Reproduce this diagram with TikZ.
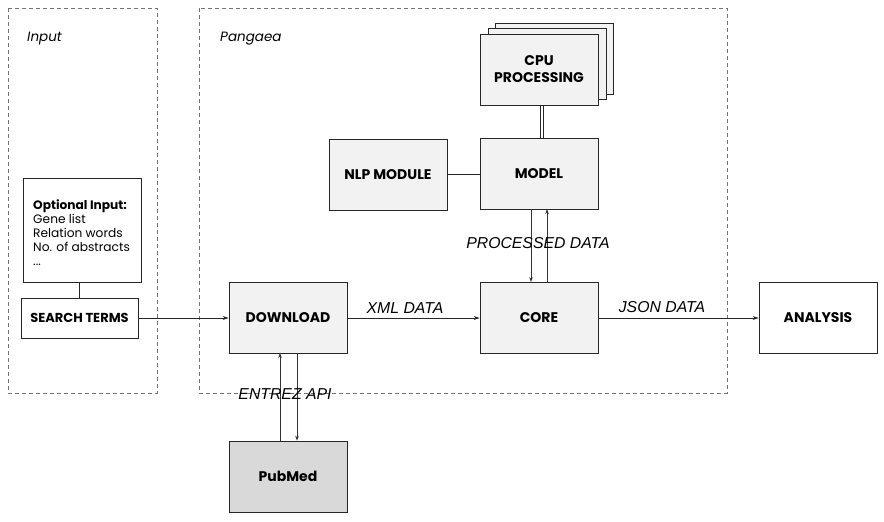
\documentclass[tikz,border=0pt]{standalone}
\usepackage{fontspec}
\setmainfont{Poppins}
\newfontfamily\arialf{Liberation Sans}
\usetikzlibrary{arrows.meta}
\begin{document}
\begin{tikzpicture}[x=1pt,y=-1pt,
  box/.style={draw=black!85,line width=0.8pt,fill=black!5,minimum width=118pt,minimum height=71pt,inner sep=0pt,align=center,font=\fontsize{14}{17}\selectfont\bfseries},
  wbox/.style={box,fill=white},
  group/.style={draw=black!55,dashed,dash pattern=on 4pt off 3pt,line width=0.6pt},
  lab/.style={font=\arialf\itshape\fontsize{15.8}{18}\selectfont,inner sep=0pt},
  ttl/.style={font=\itshape\fontsize{13.5}{15}\selectfont,inner sep=0pt,anchor=west},
  conn/.style={draw=black!85,line width=0.8pt},
  arr/.style={conn,-{Stealth[length=6pt,width=4pt]}},
  sarr/.style={draw=black!80,line width=0.6pt,-{Stealth[length=5pt,width=3.5pt]}}
]
\useasboundingbox (0,0) rectangle (884,522);
% groups
\draw[group] (8,8) rectangle (157,393);
\draw[group] (199,8) rectangle (727,393);
\node[ttl] (tin) at (27,39) {Input};
\node[ttl] (tpa) at (220,39) {Pangaea};
% input side
\node[wbox,minimum width=118pt,minimum height=104pt,anchor=north west] (opt) at (23,178) {};
\node[anchor=north west,align=left,inner sep=0pt,font=\fontsize{12.2}{14}\selectfont] (optt) at (33,200)
  {\textbf{Optional Input:}\\Gene list\\Relation words\\No. of abstracts\\...};
\node[wbox,minimum width=117pt,minimum height=40pt,font=\fontsize{13}{15}\selectfont\bfseries] (search) at (79.5,318) {SEARCH TERMS};
% main boxes
\node[box] (down) at (288,318) {DOWNLOAD};
\node[box] (core) at (539,318) {CORE};
\node[wbox] (ana) at (818,318) {ANALYSIS};
\node[box] (model) at (539,174) {MODEL};
\node[box] (nlp) at (388,174.5) {NLP MODULE};
\node[box] (pub) at (288,476.5) [fill=black!15] {PubMed};
% cpu stack
\node[box] (cpu3) at (554,58.5) {};
\node[box] (cpu2) at (547,64) {};
\node[box] (cpu) at (539,69.5) {CPU\\PROCESSING};
% connectors
\draw[conn] (opt.south -| search.north) -- (search.north);
\draw[arr] (search.east) -- (down.west);
\draw[arr] (down.east) -- (core.west);
\draw[arr] (core.east) -- (ana.west);
\draw[conn] (nlp.east |- model.west) -- (model.west);
\coordinate (c1) at (540.5,105);
\coordinate (c2) at (543.5,105);
\draw[conn,line width=0.7pt] (c1) -- (c1 |- model.north);
\draw[conn,line width=0.7pt] (c2) -- (c2 |- model.north);
\coordinate (m1) at (531,209);
\coordinate (m2) at (547,209);
\draw[sarr] (m1) -- (m1 |- core.north);
\draw[sarr] (m2 |- core.north) -- (m2);
\coordinate (d1) at (280,353);
\coordinate (d2) at (297,353);
\draw[sarr] (d1 |- pub.north) -- (d1);
\draw[sarr] (d2) -- (d2 |- pub.north);
% labels
\node[lab] (lxml) at (405,308) {XML DATA};
\node[lab] (ljson) at (662,307) {JSON DATA};
\node[lab] (lproc) at (538,243) {PROCESSED DATA};
\node[lab] (lentrez) at (285,394) {ENTREZ API};
\end{tikzpicture}
\end{document}
